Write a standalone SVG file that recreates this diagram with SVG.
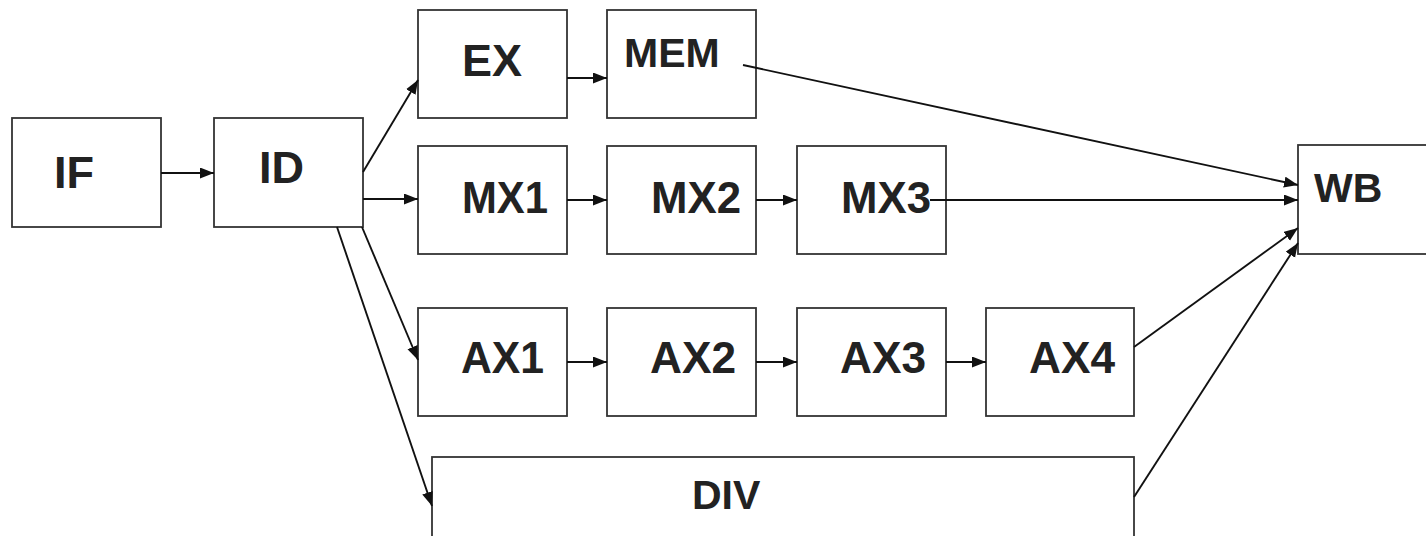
<svg xmlns="http://www.w3.org/2000/svg" width="1426" height="536" viewBox="0 0 1426 536">
<style>
.box{fill:#fff;stroke:#333;stroke-width:1.8}
.lbl{font-family:"Liberation Sans",Arial,sans-serif;font-weight:bold;font-size:45px;fill:#222}
.sm{font-size:41px}
.con{stroke:#111;stroke-width:1.9;fill:none}
</style>
<defs>
<marker id="ah" markerUnits="userSpaceOnUse" markerWidth="15" markerHeight="12" refX="14" refY="5.5" orient="auto">
<path d="M0,0 L14,5.5 L0,11 z" fill="#111"/>
</marker>
</defs>
<rect width="1426" height="536" fill="#fff"/>
<g id="IF"><rect class="box" x="12" y="118" width="149" height="109"/><text class="lbl" x="54" y="188">IF</text></g>
<g id="ID"><rect class="box" x="214" y="118" width="149" height="109"/><text class="lbl" x="259" y="183">ID</text></g>
<g id="EX"><rect class="box" x="418" y="10" width="149" height="108"/><text class="lbl" x="462" y="76">EX</text></g>
<g id="MEM"><rect class="box" x="607" y="10" width="149" height="108"/><text class="lbl sm" x="624" y="67">MEM</text></g>
<g id="MX1"><rect class="box" x="418" y="146" width="149" height="108"/><text class="lbl" x="462" y="213" textLength="86" lengthAdjust="spacingAndGlyphs">MX1</text></g>
<g id="MX2"><rect class="box" x="607" y="146" width="149" height="108"/><text class="lbl" x="651" y="213" textLength="90" lengthAdjust="spacingAndGlyphs">MX2</text></g>
<g id="MX3"><rect class="box" x="797" y="146" width="149" height="108"/><text class="lbl" x="841" y="213" textLength="90" lengthAdjust="spacingAndGlyphs">MX3</text></g>
<g id="AX1"><rect class="box" x="418" y="308" width="149" height="108"/><text class="lbl" x="461" y="373" textLength="83" lengthAdjust="spacingAndGlyphs">AX1</text></g>
<g id="AX2"><rect class="box" x="607" y="308" width="149" height="108"/><text class="lbl" x="650" y="373" textLength="86" lengthAdjust="spacingAndGlyphs">AX2</text></g>
<g id="AX3"><rect class="box" x="797" y="308" width="149" height="108"/><text class="lbl" x="840" y="373" textLength="86" lengthAdjust="spacingAndGlyphs">AX3</text></g>
<g id="AX4"><rect class="box" x="986" y="308" width="148" height="108"/><text class="lbl" x="1029" y="373" textLength="86" lengthAdjust="spacingAndGlyphs">AX4</text></g>
<g id="DIV"><rect class="box" x="432" y="457" width="702" height="100"/><text class="lbl sm" x="692" y="509">DIV</text></g>
<g id="WB"><rect class="box" x="1298" y="145" width="140" height="109"/><text class="lbl sm" x="1314" y="202">WB</text></g>
<g id="connectors">
<line class="con" x1="161" y1="173" x2="214" y2="173" marker-end="url(#ah)"/>
<line class="con" x1="363" y1="172" x2="418" y2="80" marker-end="url(#ah)"/>
<line class="con" x1="363" y1="199" x2="418" y2="199" marker-end="url(#ah)"/>
<line class="con" x1="362" y1="227" x2="418" y2="360" marker-end="url(#ah)"/>
<line class="con" x1="337" y1="227" x2="432" y2="506" marker-end="url(#ah)"/>
<line class="con" x1="567" y1="78" x2="607" y2="78" marker-end="url(#ah)"/>
<line class="con" x1="567" y1="200" x2="607" y2="200" marker-end="url(#ah)"/>
<line class="con" x1="756" y1="200" x2="797" y2="200" marker-end="url(#ah)"/>
<line class="con" x1="567" y1="362" x2="607" y2="362" marker-end="url(#ah)"/>
<line class="con" x1="756" y1="362" x2="797" y2="362" marker-end="url(#ah)"/>
<line class="con" x1="946" y1="362" x2="986" y2="362" marker-end="url(#ah)"/>
<line class="con" x1="743" y1="65" x2="1298" y2="185" marker-end="url(#ah)"/>
<line class="con" x1="930" y1="200" x2="1298" y2="200" marker-end="url(#ah)"/>
<line class="con" x1="1134" y1="347" x2="1298" y2="228" marker-end="url(#ah)"/>
<line class="con" x1="1134" y1="497" x2="1298" y2="243" marker-end="url(#ah)"/>
</g>
</svg>
